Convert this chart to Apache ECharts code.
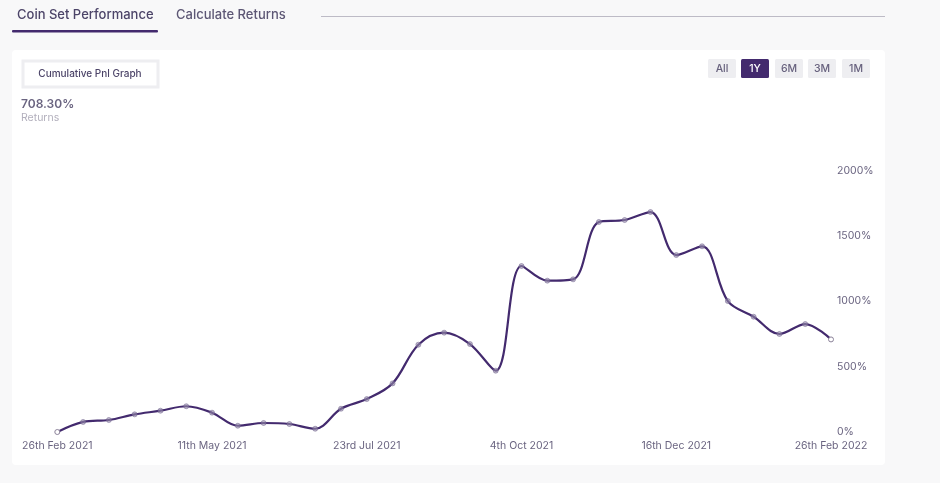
<!DOCTYPE html>
<html><head><meta charset="utf-8">
<style>html,body{margin:0;padding:0;background:#f8f8f9}#c{width:940px;height:483px}</style>
<script src="https://cdn.jsdelivr.net/npm/echarts@6/dist/echarts.min.js"></script>
</head><body><div id="c"></div>
<script>
const categories = ["26th Feb 2021","10th Mar 2021","22nd Mar 2021","4th Apr 2021","16th Apr 2021","28th Apr 2021","11th May 2021","23rd May 2021","4th Jun 2021","16th Jun 2021","28th Jun 2021","11th Jul 2021","23rd Jul 2021","4th Aug 2021","16th Aug 2021","29th Aug 2021","10th Sep 2021","22nd Sep 2021","4th Oct 2021","16th Oct 2021","29th Oct 2021","10th Nov 2021","22nd Nov 2021","4th Dec 2021","16th Dec 2021","29th Dec 2021","10th Jan 2022","22nd Jan 2022","3rd Feb 2022","14th Feb 2022","26th Feb 2022"];
const returnsPct = [0,77,92,135,163,197,148,48,69,61,25,178,252,372,668,760,673,469,1270,1158,1168,1607,1622,1683,1354,1421,1002,882,750,826,708.3];
const yTicks = {min:0,max:2000,interval:500};
const rangeButtons = ["All","1Y","6M","3M","1M"];
const font = 'Inter, "Noto Sans", sans-serif';
const dark = '#432a6e', txt = '#4c4468', muted = '#b3b0bd';
const btnX = [708,741,775,808,842];
const chart = echarts.init(document.getElementById('c'),null,{renderer:'canvas'});
const graphic = [
 {type:'rect',z:-10,shape:{x:12,y:50,width:873,height:415,r:4},style:{fill:'#fff'}},
 {type:'text',x:17,y:9,style:{text:'Coin Set Performance',font:'500 13px '+font,fill:txt}},
 {type:'text',x:176,y:9,style:{text:'Calculate Returns',font:'500 13px '+font,fill:'#5d5775'}},
 {type:'rect',shape:{x:12,y:30,width:146,height:2.5,r:1},style:{fill:dark}},
 {type:'rect',shape:{x:321,y:16,width:564,height:1},style:{fill:'#bdbbc6'}},
 {type:'rect',shape:{x:23,y:61,width:135,height:26},style:{fill:'#fff',stroke:'#eeeef1',lineWidth:3}},
 {type:'text',x:90,y:74,style:{text:'Cumulative Pnl Graph',align:'center',verticalAlign:'middle',font:'500 10px '+font,fill:txt}},
 {type:'text',x:21,y:98,style:{text:'708.30%',font:'600 12px '+font,fill:'#6a6480'}},
 {type:'text',x:21,y:112,style:{text:'Returns',font:'10.5px '+font,fill:muted}}
];
rangeButtons.forEach((b,i)=>{
 const on = b==='1Y';
 graphic.push({type:'rect',shape:{x:btnX[i],y:59,width:28,height:19,r:1.5},style:{fill:on?dark:'#eeeef1'}});
 graphic.push({type:'text',x:btnX[i]+14,y:68.5,style:{text:b,align:'center',verticalAlign:'middle',font:'500 10.5px '+font,fill:on?'#fff':'#67617d'}});
});
const last = returnsPct.length-1;
chart.setOption({
 animation:false,
 backgroundColor:'#f8f8f9',
 graphic,
 grid:{left:57.3,right:109,top:170.6,bottom:51},
 xAxis:{type:'category',data:categories,boundaryGap:false,
  axisLine:{show:false},axisTick:{show:false},
  axisLabel:{interval:5,margin:8,color:'#6a6480',fontFamily:font,fontSize:10.5,showMinLabel:true,showMaxLabel:true,hideOverlap:false}},
 yAxis:{type:'value',position:'right',min:yTicks.min,max:yTicks.max,interval:yTicks.interval,
  splitLine:{show:false},axisLine:{show:false},axisTick:{show:false},
  axisLabel:{margin:6,formatter:v=>v+'%',color:'#6a6480',fontFamily:font,fontSize:10.5}},
 series:[{type:'line',smooth:0.35,symbol:'circle',symbolSize:5,showSymbol:true,
  data:returnsPct.map((v,i)=>(i===0||i===last)?{value:v,itemStyle:{color:'#fff',borderColor:'#8b8299',borderWidth:1}}:v),
  lineStyle:{color:dark,width:2.2},
  itemStyle:{color:'rgba(150,140,170,0.6)',borderColor:'rgba(110,95,140,0.5)',borderWidth:1}}]
});
</script></body></html>
